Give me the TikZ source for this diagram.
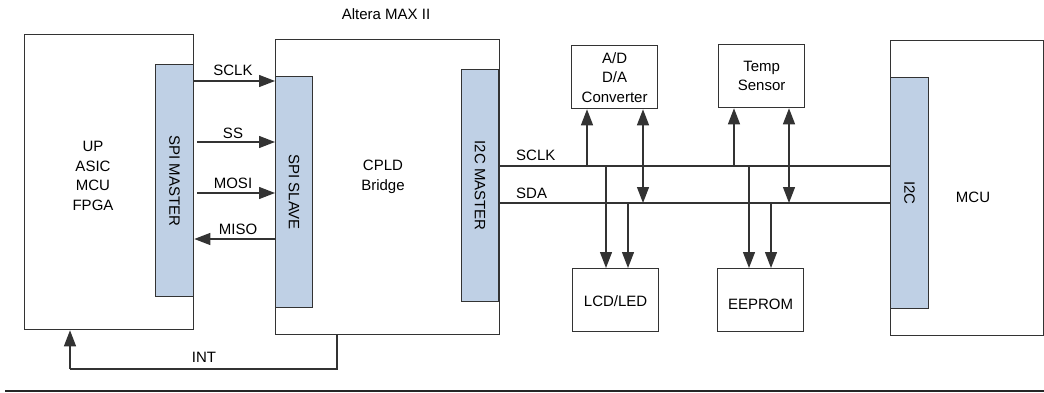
\documentclass[tikz,border=0pt]{standalone}
\usepackage{fontspec}
\setmainfont{Liberation Sans}
\usetikzlibrary{arrows.meta}
\definecolor{edge}{HTML}{333333}
\definecolor{portblue}{HTML}{BFD0E5}
\tikzset{
  blk/.style={draw=edge, line width=1.3pt, fill=white, inner sep=0pt, anchor=north west},
  port/.style={draw=edge, line width=1.3pt, fill=portblue, inner sep=0pt, anchor=north west},
  txt/.style={font=\fontsize{15}{19.5}\selectfont, align=center, inner sep=0pt, text=black},
  wire/.style={draw=edge, line width=1.3pt},
  arr/.style={wire, -{Triangle[length=16pt, width=12pt]}},
  biarr/.style={wire, {Triangle[length=16pt, width=12pt]}-{Triangle[length=16pt, width=12pt]}},
}
\newcommand{\blkbox}[5][blk]{%
  \node[#1, minimum width=#4pt, minimum height=#5pt] (#2) at (#3) {};%
}
\begin{document}
\begin{tikzpicture}[x=1pt, y=-1pt]
\useasboundingbox (0,0) rectangle (1044,393);

% main devices
\blkbox{host}{24,34}{169}{295}
\blkbox{cpld}{275,39}{224}{295}
\blkbox{mcu}{890,40}{153}{295}

% interface blocks
\blkbox[port]{spim}{155,64}{38}{232}
\blkbox[port]{spis}{275,76}{37}{231}
\blkbox[port]{i2cm}{461,69}{37}{232}
\blkbox[port]{i2cs}{890,77}{38}{231}

% I2C peripherals
\blkbox{adc}{571,45}{86}{63}
\blkbox{temp}{718,44}{86}{63}
\blkbox{lcd}{572,268}{86}{63}
\blkbox{eeprom}{717,268}{86}{63}

% texts
\node[txt] (altera) at (386,14) {Altera MAX II};
\node[txt] (hostt) at (93,176) {UP\\ASIC\\MCU\\FPGA};
\node[txt] (cpldt) at (383,177) {CPLD\\Bridge};
\node[txt] (mcut) at (973,197) {MCU};
\node[txt, rotate=-90] (spimt) at (spim.center) {SPI MASTER};
\node[txt, rotate=-90] (spist) at (spis.center) {SPI SLAVE};
\node[txt, rotate=-90] (i2cmt) at (i2cm.center) {I2C MASTER};
\node[txt, rotate=-90] (i2cst) at (i2cs.center) {I2C};
\node[txt] (adct) at (adc.center) {A/D\\D/A\\Converter};
\node[txt] (tempt) at (temp.center) {Temp\\Sensor};
\node[txt] (lcdt) at ([yshift=-1pt]lcd.center) {LCD/LED};
\node[txt] (eepromt) at ([yshift=-4pt]eeprom.center) {EEPROM};

% SPI signals
\coordinate (ySCLK) at (0,81);
\coordinate (ySS) at (0,142);
\coordinate (yMOSI) at (0,193);
\coordinate (yMISO) at (0,239);
\draw[arr] (spim.east |- ySCLK) -- (spis.west |- ySCLK);
\draw[arr] ([xshift=3pt]spim.east |- ySS) -- (spis.west |- ySS);
\draw[arr] ([xshift=3pt]spim.east |- yMOSI) -- (spis.west |- yMOSI);
\draw[arr] (spis.west |- yMISO) -- (spim.east |- yMISO);
\node[txt] (lsclk) at (233,70) {SCLK};
\node[txt] (lss) at (233,133) {SS};
\node[txt] (lmosi) at (233,183) {MOSI};
\node[txt] (lmiso) at (238,229) {MISO};

% interrupt line
\coordinate (intA) at (337,369);
\coordinate (intB) at (70,369);
\draw[wire] (cpld.south -| intA) -- (intA) -- (intB);
\draw[arr] (intB) -- (host.south -| intB);
\node[txt] (lint) at (204,357) {INT};

% I2C bus
\coordinate (yBCLK) at (0,166);
\coordinate (yBSDA) at (0,203);
\draw[wire] (i2cm.east |- yBCLK) -- (i2cs.west |- yBCLK);
\draw[wire] (i2cm.east |- yBSDA) -- (i2cs.west |- yBSDA);
\node[txt, anchor=west] (lbclk) at (516,155) {SCLK};
\node[txt, anchor=west] (lbsda) at (516,193) {SDA};

% bus taps
\draw[arr] ([xshift=16pt]adc.south west |- yBCLK) -- ([xshift=16pt]adc.south west);
\draw[biarr] ([xshift=72pt]adc.south west |- yBSDA) -- ([xshift=72pt]adc.south west);
\draw[arr] ([xshift=16pt]temp.south west |- yBCLK) -- ([xshift=16pt]temp.south west);
\draw[biarr] ([xshift=71pt]temp.south west |- yBSDA) -- ([xshift=71pt]temp.south west);
\draw[arr] ([xshift=34pt]lcd.north west |- yBCLK) -- ([xshift=34pt]lcd.north west);
\draw[arr] ([xshift=56pt]lcd.north west |- yBSDA) -- ([xshift=56pt]lcd.north west);
\draw[arr] ([xshift=32pt]eeprom.north west |- yBCLK) -- ([xshift=32pt]eeprom.north west);
\draw[arr] ([xshift=54pt]eeprom.north west |- yBSDA) -- ([xshift=54pt]eeprom.north west);

% rule under the figure
\coordinate (ruleL) at (5,391);
\coordinate (ruleR) at (1044,391);
\draw[draw=black!85, line width=1.5pt] (ruleL) -- (ruleR);
\end{tikzpicture}
\end{document}
